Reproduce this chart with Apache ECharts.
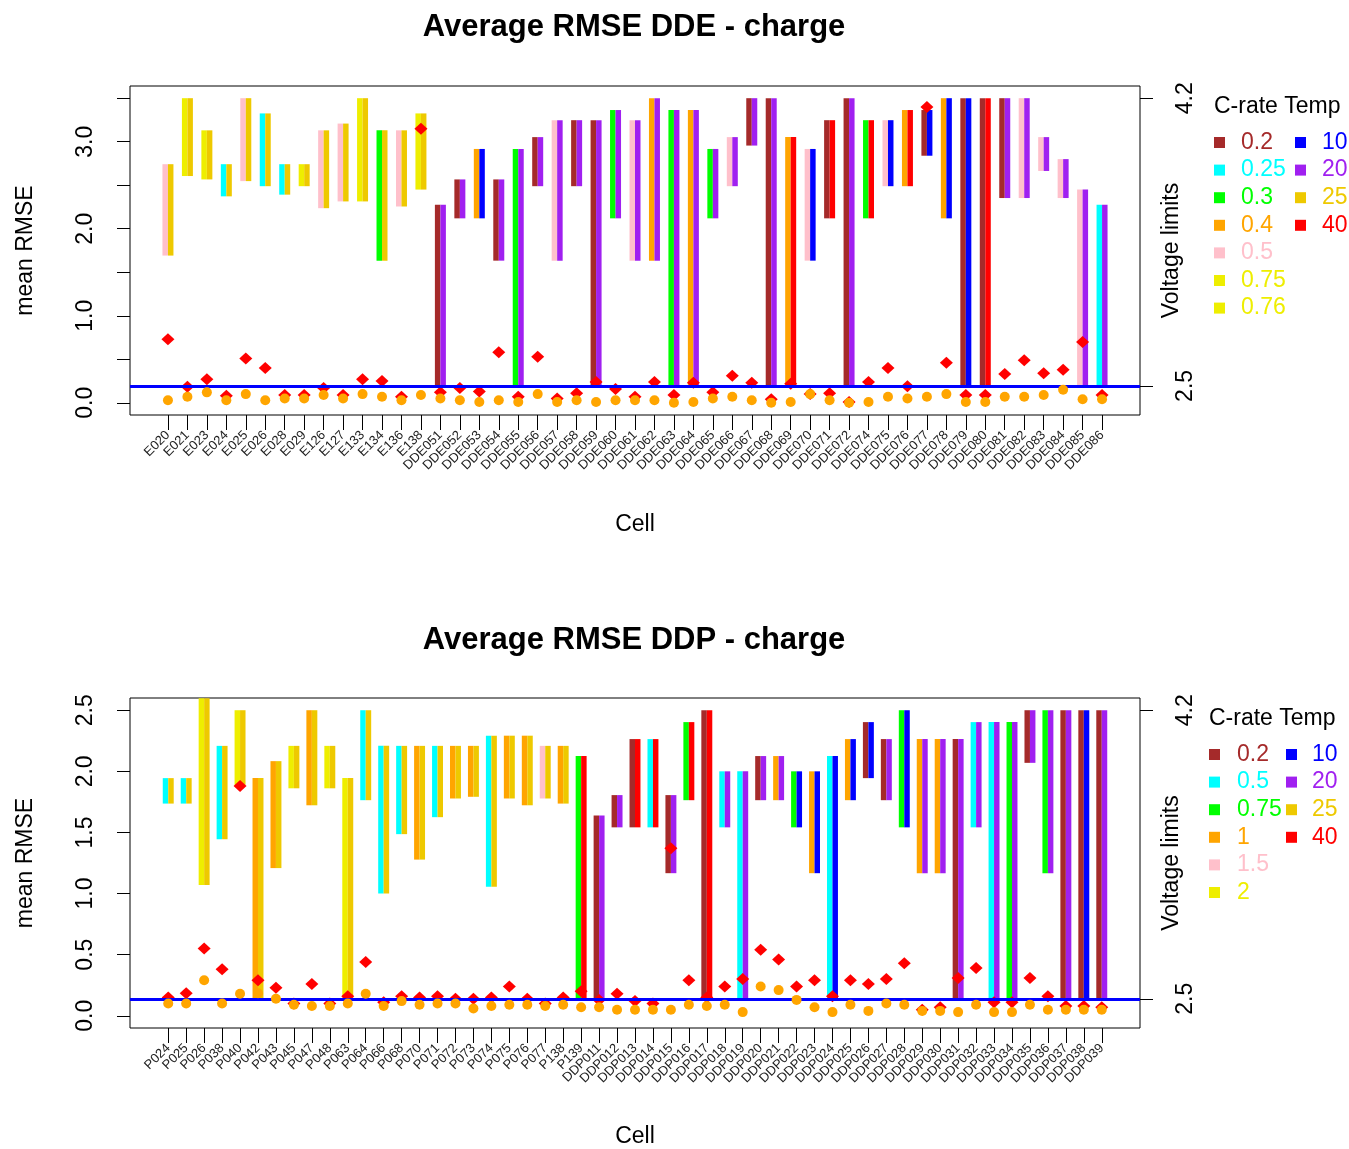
<!DOCTYPE html>
<html>
<head>
<meta charset="utf-8">
<script src="https://cdn.jsdelivr.net/npm/echarts@6/dist/echarts.min.js"></script>
<style>
  html, body { margin: 0; padding: 0; background: #fff; }
  #chart { width: 1349px; height: 1149px; }
</style>
</head>
<body>
<div id="chart"></div>
<script>
// ---- DDE cells (charge) ----
const ddeCells = ['E020','E021','E023','E024','E025','E026','E028','E029','E126','E127','E133','E134','E136','E138',
  'DDE051','DDE052','DDE053','DDE054','DDE055','DDE056','DDE057','DDE058','DDE059','DDE060','DDE061','DDE062',
  'DDE063','DDE064','DDE065','DDE066','DDE067','DDE068','DDE069','DDE070','DDE071','DDE072','DDE074','DDE075',
  'DDE076','DDE077','DDE078','DDE079','DDE080','DDE081','DDE082','DDE083','DDE084','DDE085','DDE086'];
const ddeCrate = [0.5,0.75,0.75,0.25,0.5,0.25,0.25,0.76,0.5,0.5,0.75,0.3,0.5,0.76,
  0.2,0.2,0.4,0.2,0.3,0.2,0.5,0.2,0.2,0.3,0.5,0.4,
  0.3,0.4,0.3,0.5,0.2,0.2,0.4,0.5,0.2,0.2,0.3,0.5,
  0.4,0.2,0.4,0.2,0.2,0.2,0.5,0.5,0.5,0.5,0.25];
const ddeTemp = [25,25,25,25,25,25,25,25,25,25,25,25,25,25,
  20,20,10,20,20,20,20,20,20,20,20,20,
  20,20,20,20,20,20,40,10,40,20,40,10,
  40,10,10,10,40,20,20,20,20,20,20];
const ddeVmin = [3.27,3.74,3.72,3.62,3.71,3.68,3.63,3.68,3.55,3.59,3.59,3.24,3.56,3.66,
  2.50,3.49,3.49,3.24,2.50,3.68,3.24,3.68,2.50,3.49,3.24,3.24,
  2.50,2.50,3.49,3.68,3.92,2.50,2.50,3.24,3.49,2.50,3.49,3.68,
  3.68,3.86,3.49,2.50,2.50,3.61,3.61,3.77,3.61,2.50,2.50];
const ddeVmax = [3.81,4.20,4.01,3.81,4.20,4.11,3.81,3.81,4.01,4.05,4.20,4.01,4.01,4.11,
  3.57,3.72,3.90,3.72,3.90,3.97,4.07,4.07,4.07,4.13,4.07,4.20,
  4.13,4.13,3.90,3.97,4.20,4.20,3.97,3.90,4.07,4.20,4.07,4.07,
  4.13,4.13,4.20,4.20,4.20,4.20,4.20,3.97,3.84,3.66,3.57];
const ddeRmseA = [0.03,0.07,0.12,0.03,0.10,0.03,0.05,0.05,0.09,0.05,0.10,0.07,0.03,0.09,
  0.05,0.03,0.01,0.03,0.01,0.10,0.01,0.03,0.01,0.03,0.03,0.03,
  0.00,0.01,0.05,0.07,0.03,0.00,0.01,0.10,0.03,0.00,0.01,0.07,
  0.05,0.07,0.10,0.01,0.01,0.07,0.07,0.09,0.15,0.04,0.04];
const ddeRmseB = [0.73,0.185,0.27,0.08,0.51,0.40,0.09,0.09,0.17,0.09,0.27,0.25,0.07,3.15,
  0.12,0.17,0.13,0.58,0.07,0.53,0.05,0.11,0.24,0.16,0.07,0.24,
  0.09,0.23,0.12,0.31,0.23,0.04,0.22,0.10,0.11,0.01,0.24,0.40,
  0.19,3.40,0.46,0.09,0.09,0.33,0.49,0.34,0.38,0.70,0.09];

// ---- DDP cells (charge) ----
const ddpCells = ['P024','P025','P026','P038','P040','P042','P043','P045','P047','P048','P063','P064','P066','P068',
  'P070','P071','P072','P073','P074','P075','P076','P077','P138','P139',
  'DDP011','DDP012','DDP013','DDP014','DDP015','DDP016','DDP017','DDP018','DDP019','DDP020','DDP021','DDP022',
  'DDP023','DDP024','DDP025','DDP026','DDP027','DDP028','DDP029','DDP030','DDP031','DDP032','DDP033','DDP034',
  'DDP035','DDP036','DDP037','DDP038','DDP039'];
const ddpCrate = [0.5,0.5,2,0.5,2,1,1,2,1,2,2,0.5,0.5,0.5,
  1,0.5,1,1,0.5,1,1,1.5,1,0.75,
  0.2,0.2,0.2,0.5,0.2,0.75,0.2,0.5,0.5,0.2,1,0.75,
  1,0.5,1,0.2,0.2,0.75,1,1,0.2,0.5,0.5,0.75,
  0.2,0.75,0.2,0.2,0.2];
const ddpTemp = [25,25,25,25,25,25,25,25,25,25,25,25,25,25,
  25,25,25,25,25,25,25,25,25,40,
  20,20,40,40,20,40,40,20,20,20,20,10,
  10,10,10,10,20,10,20,20,20,20,20,20,
  20,20,20,10,20];
const ddpVmin = [3.65,3.65,3.17,3.44,3.76,2.50,3.27,3.74,3.64,3.74,2.50,3.67,3.12,3.47,
  3.32,3.57,3.68,3.69,3.16,3.68,3.64,3.68,3.65,2.50,
  2.50,3.51,3.51,3.51,3.24,3.67,2.50,3.51,2.50,3.67,3.67,3.51,
  3.24,2.50,3.67,3.80,3.67,3.51,3.24,3.24,2.50,3.51,2.50,2.50,
  3.89,3.24,2.50,2.50,2.50];
const ddpVmax = [3.80,3.80,4.27,3.99,4.20,3.80,3.90,3.99,4.20,3.99,3.80,4.20,3.99,3.99,
  3.99,3.99,3.99,3.99,4.05,4.05,4.05,3.99,3.99,3.93,
  3.58,3.70,4.03,4.03,3.70,4.13,4.20,3.84,3.84,3.93,3.93,3.84,
  3.84,3.93,4.03,4.13,4.03,4.20,4.03,4.03,4.03,4.13,4.13,4.13,
  4.20,4.20,4.20,4.20,4.20];
const ddpRmseA = [0.10,0.10,0.29,0.10,0.18,0.185,0.14,0.09,0.08,0.08,0.10,0.18,0.08,0.12,
  0.09,0.10,0.10,0.06,0.08,0.09,0.09,0.08,0.09,0.07,
  0.07,0.05,0.05,0.05,0.05,0.09,0.08,0.09,0.03,0.24,0.21,0.13,
  0.07,0.03,0.09,0.04,0.10,0.09,0.04,0.04,0.03,0.09,0.03,0.03,
  0.09,0.05,0.05,0.05,0.05];
const ddpRmseB = [0.15,0.185,0.55,0.38,1.88,0.29,0.23,0.10,0.26,0.10,0.16,0.44,0.11,0.16,
  0.15,0.16,0.14,0.14,0.15,0.24,0.14,0.10,0.15,0.20,
  0.13,0.18,0.12,0.10,1.37,0.29,0.15,0.24,0.30,0.54,0.46,0.24,
  0.29,0.16,0.29,0.26,0.30,0.43,0.05,0.07,0.31,0.39,0.11,0.11,
  0.31,0.16,0.08,0.08,0.07];

// ---- legend entries and palettes ----
const ddeCrateLevels = ['0.2','0.25','0.3','0.4','0.5','0.75','0.76'];
const ddpCrateLevels = ['0.2','0.5','0.75','1','1.5','2'];
const tempLevels = ['10','20','25','40'];
const ddeCrateColors = {'0.2':'#A52A2A','0.25':'#00FFFF','0.3':'#00FF00','0.4':'#FFA500','0.5':'#FFC0CB','0.75':'#EEEE00','0.76':'#EEEE00'};
const ddpCrateColors = {'0.2':'#A52A2A','0.5':'#00FFFF','0.75':'#00FF00','1':'#FFA500','1.5':'#FFC0CB','2':'#EEEE00'};
const tempColors = {'10':'#0000FF','20':'#A020F0','25':'#EEC900','40':'#FF0000'};

const FONT = '"Liberation Sans", Arial, sans-serif';
const voltLimit = 2.5;

// x axes: index 2k carries the series; 2k and 2k+1 share the cell ticks (even / odd) so every name stays visible
function panel(k, cells, crate, temp, vmin, vmax, rA, rB, crateColors, barW) {
  const idx = cells.map((_, i) => i);
  const bars = cells.map((_, i) => [i, vmin[i], vmax[i]]);
  const xi = 2 * k;
  return [
    {
      type: 'custom', xAxisIndex: xi, yAxisIndex: 2 * k + 1, z: 2,
      encode: { x: 0, y: [1, 2] },
      data: bars,
      renderItem: function (params, api) {
        const i = params.dataIndex;
        const p1 = api.coord([api.value(0), api.value(2)]);
        const p0 = api.coord([api.value(0), api.value(1)]);
        const w = api.size([barW, 0])[0];
        const h = p0[1] - p1[1];
        return {
          type: 'group',
          children: [
            { type: 'rect', shape: { x: p1[0] - w / 2, y: p1[1], width: w / 2, height: h },
              style: { fill: crateColors[String(crate[i])] } },
            { type: 'rect', shape: { x: p1[0], y: p1[1], width: w / 2, height: h },
              style: { fill: tempColors[String(temp[i])] } }
          ]
        };
      }
    },
    {
      type: 'scatter', xAxisIndex: xi, yAxisIndex: 2 * k + 1, z: 3, data: [],
      markLine: {
        silent: true, symbol: 'none', animation: false,
        label: { show: false },
        lineStyle: { color: '#0000FF', width: 3, type: 'solid' },
        data: [{ yAxis: voltLimit }]
      }
    },
    {
      type: 'scatter', xAxisIndex: xi, yAxisIndex: 2 * k, z: 4,
      symbol: 'diamond', symbolSize: [13, 12],
      itemStyle: { color: '#FF0000', opacity: 1 },
      data: idx.map(i => [i, rB[i]])
    },
    {
      type: 'scatter', xAxisIndex: xi, yAxisIndex: 2 * k, z: 5,
      symbol: 'circle', symbolSize: 10,
      itemStyle: { color: '#FFA500', opacity: 1 },
      data: idx.map(i => [i, rA[i]])
    }
  ];
}

function xAxisFor(k, cells, min, max, gap, parity) {
  const vals = cells.map((_, i) => i).filter(i => i % 2 === parity);
  return {
    type: 'value', gridIndex: k, min: min, max: max, position: 'bottom', offset: 0,
    name: parity === 0 ? 'Cell' : '', nameLocation: 'middle', nameGap: gap, nameMoveOverlap: false,
    nameTextStyle: { fontFamily: FONT, fontSize: 23, color: '#000' },
    axisLine: { show: false, onZero: false },
    splitLine: { show: false },
    axisTick: { show: true, customValues: vals, length: 15, lineStyle: { color: '#000', width: 1 } },
    axisLabel: {
      customValues: vals, rotate: 45, margin: 18, hideOverlap: false,
      showMinLabel: true, showMaxLabel: true,
      fontFamily: FONT, fontSize: 13, color: '#222',
      formatter: v => cells[Math.round(v)]
    }
  };
}

function leftAxis(k, min, max, ticks, labels) {
  return {
    type: 'value', gridIndex: k, position: 'left', min: min, max: max,
    name: 'mean RMSE', nameLocation: 'middle', nameRotate: 90, nameGap: 93, nameMoveOverlap: false,
    nameTextStyle: { fontFamily: FONT, fontSize: 23, color: '#000' },
    axisLine: { show: false, onZero: false }, splitLine: { show: false },
    axisTick: { show: true, customValues: ticks, length: 13, lineStyle: { color: '#000' } },
    axisLabel: { customValues: labels, rotate: 90, margin: 33, showMinLabel: true, showMaxLabel: true,
      fontFamily: FONT, fontSize: 23, color: '#000', formatter: v => v.toFixed(1) }
  };
}

function rightAxis(k) {
  return {
    type: 'value', gridIndex: k, position: 'right', min: 2.328, max: 4.272,
    name: 'Voltage limits', nameLocation: 'middle', nameRotate: 90, nameGap: 20, nameMoveOverlap: false,
    nameTextStyle: { fontFamily: FONT, fontSize: 23, color: '#000' },
    axisLine: { show: false, onZero: false }, splitLine: { show: false },
    axisTick: { show: true, customValues: [2.5, 4.2], length: 13, lineStyle: { color: '#000' } },
    axisLabel: { customValues: [2.5, 4.2], rotate: 90, margin: 34, showMinLabel: true, showMaxLabel: true,
      fontFamily: FONT, fontSize: 23, color: '#000', formatter: v => v.toFixed(1) }
  };
}

function legendGraphics(top, crateLevels, crateColors, headerX, sqX, txtX, tSqX, tTxtX, rowH) {
  const els = [];
  els.push({ type: 'text', left: headerX, top: top - 12,
    style: { text: 'C-rate Temp', font: '23px ' + FONT, fill: '#000' } });
  crateLevels.forEach((lv, r) => {
    const cy = top + 36 + r * rowH;
    els.push({ type: 'rect', left: sqX, top: cy - 6, shape: { width: 11, height: 11 }, style: { fill: crateColors[lv] } });
    els.push({ type: 'text', left: txtX, top: cy - 12, style: { text: lv, font: '23px ' + FONT, fill: crateColors[lv] } });
  });
  tempLevels.forEach((lv, r) => {
    const cy = top + 36 + r * rowH;
    els.push({ type: 'rect', left: tSqX, top: cy - 6, shape: { width: 11, height: 11 }, style: { fill: tempColors[lv] } });
    els.push({ type: 'text', left: tTxtX, top: cy - 12, style: { text: lv, font: '23px ' + FONT, fill: tempColors[lv] } });
  });
  return els;
}

const chart = echarts.init(document.getElementById('chart'), null, { renderer: 'canvas' });
chart.setOption({
  animation: false,
  backgroundColor: '#fff',
  title: [
    { text: 'Average RMSE DDE - charge', left: 629, top: 7, textAlign: 'center',
      textStyle: { fontFamily: FONT, fontSize: 31, fontWeight: 'bold', color: '#000' } },
    { text: 'Average RMSE DDP - charge', left: 629, top: 620, textAlign: 'center',
      textStyle: { fontFamily: FONT, fontSize: 31, fontWeight: 'bold', color: '#000' } }
  ],
  grid: [
    { left: 130, top: 86, width: 1010, height: 329, show: true, borderColor: '#000', borderWidth: 1, backgroundColor: 'transparent' },
    { left: 130, top: 698, width: 1010, height: 331, show: true, borderColor: '#000', borderWidth: 1, backgroundColor: 'transparent' }
  ],
  xAxis: [
    xAxisFor(0, ddeCells, -1.95, 49.95, 98, 0),
    xAxisFor(0, ddeCells, -1.95, 49.95, 98, 1),
    xAxisFor(1, ddpCells, -2.13, 54.13, 97, 0),
    xAxisFor(1, ddpCells, -2.13, 54.13, 97, 1)
  ],
  yAxis: [
    leftAxis(0, -0.14, 3.64, [0, 0.5, 1, 1.5, 2, 2.5, 3, 3.5], [0, 1, 2, 3]),
    rightAxis(0),
    leftAxis(1, -0.1, 2.6, [0, 0.5, 1, 1.5, 2, 2.5], [0, 0.5, 1, 1.5, 2, 2.5]),
    rightAxis(1)
  ],
  series: [].concat(
    panel(0, ddeCells, ddeCrate, ddeTemp, ddeVmin, ddeVmax, ddeRmseA, ddeRmseB, ddeCrateColors, 0.565),
    panel(1, ddpCells, ddpCrate, ddpTemp, ddpVmin, ddpVmax, ddpRmseA, ddpRmseB, ddpCrateColors, 0.61)
  ),
  graphic: [].concat(
    legendGraphics(107, ddeCrateLevels, ddeCrateColors, 1214, 1214, 1241, 1295, 1322, 27.6),
    legendGraphics(719, ddpCrateLevels, ddpCrateColors, 1209, 1209, 1237, 1286, 1312, 27.6)
  )
});
</script>
</body>
</html>
